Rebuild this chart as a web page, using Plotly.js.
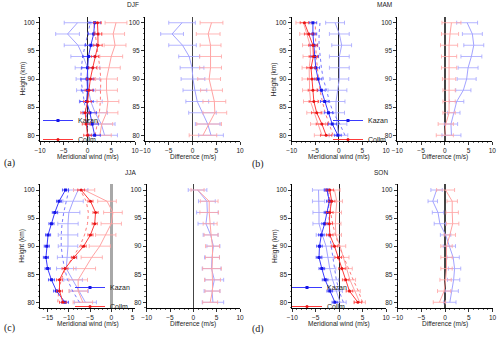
<!DOCTYPE html>
<html><head><meta charset="utf-8">
<script src="https://cdn.plot.ly/plotly-3.0.1.min.js"></script>
<style>html,body{margin:0;padding:0;background:#fff;} #chart{width:500px;height:339px;}</style>
</head><body><div id="chart"></div>
<script>
// heights (km), bottom to top
const heights = [80, 82, 84, 86, 88, 90, 92, 94, 96, 98, 100];
const seasons = ['DJF', 'MAM', 'JJA', 'SON'];
const panelLabels = ['(a)', '(b)', '(c)', '(d)'];
const stationNames = ['Kazan', 'Collm'];
const windTitle = 'Meridional wind (m/s)';
const diffTitle = 'Difference (m/s)';
const heightTitle = 'Height (km)';

// ---- DJF ----
const djfKazan = [1.5, 1.0, 0.5, -0.2, 0.0, -0.1, 0.0, 0.2, 0.7, 1.3, 1.5];
const djfKazanErr = [1.2, 1.3, 1.4, 1.4, 1.3, 1.3, 1.2, 1.2, 1.2, 1.1, 1.2];
const djfCollm = [0.0, -0.3, -0.5, 0.0, 0.3, 0.6, 1.1, 1.6, 2.2, 2.2, 2.1];
const djfCollmErr = [0.8, 0.8, 0.9, 0.8, 0.8, 0.8, 0.8, 0.8, 0.9, 0.8, 0.8];
const djfKazanB = [3.6, 2.9, 1.6, 0.7, 0.2, 0.1, 0.0, -0.9, -2.0, -4.2, -2.1];
const djfKazanBErr = [2.7, 2.9, 2.6, 2.4, 2.5, 2.5, 2.6, 2.6, 2.9, 2.5, 2.8];
const djfCollmB = [2.6, 3.0, 4.0, 4.3, 4.0, 4.0, 4.5, 5.0, 5.8, 5.4, 6.0];
const djfCollmBErr = [2.4, 2.3, 2.4, 2.3, 2.3, 2.3, 2.4, 2.4, 2.3, 2.4, 2.3];
const djfKazanModel = [0.0, -0.1, -0.3, -0.7, -1.1, -1.4, -1.3, -1.0, -0.5, 0.1, 0.6];
const djfCollmModel = [1.6, 2.1, 2.5, 2.7, 2.8, 2.8, 2.6, 2.3, 2.0, 1.6, 1.3];
const djfDiffKazan = [3.9, 3.2, 2.1, 1.0, 0.5, 0.1, -0.1, -0.7, -2.1, -4.3, -2.2];
const djfDiffKazanErr = [2.6, 2.6, 2.9, 2.4, 2.5, 2.5, 2.5, 2.2, 2.9, 2.4, 2.8];
const djfDiffCollm = [2.2, 3.5, 4.7, 4.6, 4.0, 3.5, 3.8, 3.8, 3.8, 3.3, 4.0];
const djfDiffCollmErr = [2.9, 2.6, 2.5, 2.4, 2.3, 2.4, 2.3, 2.3, 2.2, 2.5, 2.4];

// ---- MAM ----
const mamKazan = [-0.2, -1.4, -2.2, -3.0, -3.7, -4.4, -4.9, -5.1, -5.3, -5.5, -5.5];
const mamKazanErr = [0.7, 0.9, 0.9, 0.9, 0.8, 0.8, 0.8, 0.8, 0.8, 0.8, 0.8];
const mamCollm = [-2.7, -3.6, -4.7, -5.3, -5.5, -5.7, -5.9, -5.4, -5.5, -6.4, -7.3];
const mamCollmErr = [1.2, 1.2, 1.1, 1.0, 1.0, 0.9, 0.9, 0.9, 0.9, 0.9, 0.9];
const mamKazanB = [-0.1, -0.3, -0.6, -0.6, -0.3, 0.1, 0.1, 0.1, 0.6, 0.1, -0.8];
const mamKazanBErr = [2.0, 2.0, 1.8, 1.9, 2.0, 2.0, 2.1, 2.1, 2.1, 2.1, 2.0];
const mamCollmB = [-3.6, -4.4, -5.3, -6.0, -6.2, -6.3, -6.3, -6.0, -6.1, -6.8, -7.5];
const mamCollmBErr = [1.6, 1.6, 1.5, 1.5, 1.5, 1.5, 1.5, 1.6, 1.6, 1.5, 1.6];
const mamKazanModel = [1.3, 0.2, -1.2, -2.0, -2.6, -3.3, -3.7, -4.0, -4.2, -4.2, -4.0];
const mamCollmModel = [-1.2, -2.0, -2.9, -3.5, -4.0, -4.3, -4.6, -4.8, -4.9, -5.0, -5.0];
const mamDiffKazan = [1.4, 1.3, 1.9, 2.5, 3.9, 4.6, 4.9, 5.6, 6.1, 5.8, 4.7];
const mamDiffKazanErr = [2.0, 1.4, 1.3, 1.5, 1.6, 2.0, 2.1, 2.2, 2.1, 2.1, 2.2];
const mamDiffCollm = [0.0, 0.2, 0.9, 0.9, 0.9, 0.9, 0.9, 0.9, 0.9, 1.1, 1.4];
const mamDiffCollmErr = [1.8, 1.6, 1.3, 1.3, 1.3, 1.4, 1.6, 1.6, 1.8, 1.8, 2.0];

// ---- JJA ----
const jjaKazan = [-10.9, -12.9, -14.1, -15.0, -15.4, -15.2, -14.9, -14.1, -13.3, -12.3, -10.8];
const jjaKazanErr = [0.8, 0.7, 0.7, 0.6, 0.6, 0.6, 0.6, 0.6, 0.6, 0.6, 0.7];
const jjaCollm = [-11.4, -12.2, -12.2, -10.9, -8.8, -6.5, -4.9, -3.9, -3.7, -4.9, -7.1];
const jjaCollmErr = [0.8, 0.7, 0.7, 0.7, 0.6, 0.6, 0.6, 0.6, 0.6, 0.6, 0.8];
const jjaKazanB = [-6.1, -7.6, -9.0, -10.6, -10.4, -10.2, -10.2, -10.2, -10.0, -9.0, -7.8];
const jjaKazanBErr = [2.6, 2.2, 2.2, 2.3, 2.3, 2.3, 2.3, 2.4, 2.6, 2.4, 2.3];
const jjaCollmB = [-6.7, -7.8, -7.8, -6.3, -4.6, -2.7, -1.3, 0.0, 0.4, -1.0, -6.4];
const jjaCollmBErr = [2.3, 2.2, 2.2, 2.6, 2.5, 2.5, 2.4, 2.4, 2.2, 2.2, 2.5];
const jjaKazanModel = [-7.5, -9.1, -10.3, -11.0, -11.5, -11.8, -11.8, -11.6, -11.2, -10.6, -10.0];
const jjaCollmModel = [-12.6, -12.4, -11.8, -10.8, -9.1, -7.4, -6.3, -5.6, -5.4, -5.9, -7.3];
const jjaDiffKazan = [4.2, 4.0, 4.5, 3.9, 4.0, 4.3, 3.7, 2.7, 3.0, 2.9, 0.9];
const jjaDiffKazanErr = [2.3, 1.7, 2.0, 2.0, 1.6, 1.4, 1.6, 1.7, 2.3, 1.8, 2.0];
const jjaDiffCollm = [3.6, 4.1, 4.1, 4.0, 4.1, 4.1, 3.8, 3.6, 3.4, 3.4, 0.9];
const jjaDiffCollmErr = [1.6, 1.6, 1.7, 2.0, 1.5, 1.5, 1.5, 1.5, 2.0, 1.9, 1.4];

// ---- SON ----
const sonKazan = [-0.9, -2.0, -3.0, -3.7, -4.3, -4.2, -3.8, -3.1, -2.6, -2.1, -2.6];
const sonKazanErr = [0.6, 0.6, 0.6, 0.6, 0.6, 0.6, 0.6, 0.6, 0.6, 0.6, 0.6];
const sonCollm = [4.0, 2.2, 1.4, 0.6, -0.2, -1.0, -2.0, -2.1, -2.0, -1.6, -2.0];
const sonCollmErr = [0.8, 0.7, 0.7, 0.7, 0.7, 0.7, 0.7, 0.7, 0.7, 0.7, 0.8];
const sonKazanB = [0.2, -0.6, -1.4, -2.0, -2.4, -2.8, -3.6, -4.3, -4.3, -4.4, -4.4];
const sonKazanBErr = [1.3, 1.3, 1.3, 1.3, 1.3, 1.3, 1.3, 1.3, 1.3, 1.3, 1.3];
const sonCollmB = [4.4, 3.3, 2.3, 1.6, 0.9, 0.2, -0.7, -0.8, -0.7, -0.5, -1.0];
const sonCollmBErr = [1.2, 1.2, 1.2, 1.2, 1.2, 1.2, 1.2, 1.2, 1.2, 1.2, 1.2];
const sonKazanModel = [0.9, 0.0, -0.6, -1.0, -1.4, -1.7, -2.0, -2.1, -2.2, -2.3, -2.4];
const sonCollmModel = [5.0, 4.1, 3.0, 2.0, 1.0, 0.0, -0.8, -1.4, -1.8, -2.0, -2.2];
const sonDiffKazan = [1.0, 1.4, 1.8, 2.0, 1.7, 0.9, 0.1, -1.1, -1.5, -2.6, -1.8];
const sonDiffKazanErr = [1.3, 1.4, 1.3, 1.3, 1.3, 1.3, 1.1, 1.2, 1.2, 1.0, 1.2];
const sonDiffCollm = [-1.2, -0.2, 0.1, 0.3, 0.3, 0.3, 1.0, 1.6, 1.5, 1.5, 0.1];
const sonDiffCollmErr = [1.3, 1.4, 1.2, 1.2, 1.2, 1.2, 1.2, 1.3, 1.3, 1.1, 1.9];

// ---------- styles ----------
const C = {
  kazan: '#3a3aff', kazanMk: '#1515e6', kazanLight: '#a3a3ff', kazanDash: '#7a7aff',
  collm: '#ff3a3a', collmMk: '#e61515', collmLight: '#ffa3a3', collmDash: '#ff7a7a'
};
const FONT = 'Liberation Sans, Arial, sans-serif';

const seasonData = [
  {k: djfKazan, ke: djfKazanErr, c: djfCollm, ce: djfCollmErr, kb: djfKazanB, kbe: djfKazanBErr, cb: djfCollmB, cbe: djfCollmBErr, km: djfKazanModel, cm: djfCollmModel, dk: djfDiffKazan, dke: djfDiffKazanErr, dc: djfDiffCollm, dce: djfDiffCollmErr},
  {k: mamKazan, ke: mamKazanErr, c: mamCollm, ce: mamCollmErr, kb: mamKazanB, kbe: mamKazanBErr, cb: mamCollmB, cbe: mamCollmBErr, km: mamKazanModel, cm: mamCollmModel, dk: mamDiffKazan, dke: mamDiffKazanErr, dc: mamDiffCollm, dce: mamDiffCollmErr},
  {k: jjaKazan, ke: jjaKazanErr, c: jjaCollm, ce: jjaCollmErr, kb: jjaKazanB, kbe: jjaKazanBErr, cb: jjaCollmB, cbe: jjaCollmBErr, km: jjaKazanModel, cm: jjaCollmModel, dk: jjaDiffKazan, dke: jjaDiffKazanErr, dc: jjaDiffCollm, dce: jjaDiffCollmErr},
  {k: sonKazan, ke: sonKazanErr, c: sonCollm, ce: sonCollmErr, kb: sonKazanB, kbe: sonKazanBErr, cb: sonCollmB, cbe: sonCollmBErr, km: sonKazanModel, cm: sonCollmModel, dk: sonDiffKazan, dke: sonDiffKazanErr, dc: sonDiffCollm, dce: sonDiffCollmErr}
];

function err(arr, color, w) {
  return {type: 'data', array: arr, visible: true, color: color, thickness: 0.8, width: w};
}

const traces = [];
seasonData.forEach((s, i) => {
  const wx = 'x' + (2 * i + 1), wy = 'y' + (2 * i + 1);
  const dx = 'x' + (2 * i + 2), dy = 'y' + (2 * i + 2);
  const lg = i === 0 ? 'legend' : 'legend' + (i + 1);
  traces.push({x: s.kb, y: heights, xaxis: wx, yaxis: wy, mode: 'lines', showlegend: false,
    line: {color: C.kazanLight, width: 1}, error_x: err(s.kbe, C.kazanLight, 2)});
  traces.push({x: s.cb, y: heights, xaxis: wx, yaxis: wy, mode: 'lines', showlegend: false,
    line: {color: C.collmLight, width: 1}, error_x: err(s.cbe, C.collmLight, 2)});
  traces.push({x: s.km, y: heights, xaxis: wx, yaxis: wy, mode: 'lines', showlegend: false,
    line: {color: C.kazanDash, width: 1, dash: 'dot'}});
  traces.push({x: s.cm, y: heights, xaxis: wx, yaxis: wy, mode: 'lines', showlegend: false,
    line: {color: C.collmDash, width: 1, dash: 'dot'}});
  traces.push({x: s.k, y: heights, xaxis: wx, yaxis: wy, mode: 'lines+markers', name: stationNames[0],
    legend: lg, line: {color: C.kazan, width: 1}, marker: {symbol: 'square', size: 3, color: C.kazanMk},
    error_x: err(s.ke, C.kazan, 1.5)});
  traces.push({x: s.c, y: heights, xaxis: wx, yaxis: wy, mode: 'lines+markers', name: stationNames[1],
    legend: lg, line: {color: C.collm, width: 1}, marker: {symbol: 'circle', size: 3, color: C.collmMk},
    error_x: err(s.ce, C.collm, 1.5)});
  traces.push({x: s.dk, y: heights, xaxis: dx, yaxis: dy, mode: 'lines', showlegend: false,
    line: {color: C.kazanLight, width: 1}, error_x: err(s.dke, C.kazanLight, 2)});
  traces.push({x: s.dc, y: heights, xaxis: dx, yaxis: dy, mode: 'lines', showlegend: false,
    line: {color: C.collmLight, width: 1}, error_x: err(s.dce, C.collmLight, 2)});
});

// ---------- layout (pixel geometry in a 500x339 page) ----------
const W = 500, H = 339;
const px = (a, b) => [a / W, b / W];
const py = (top, bot) => [1 - bot / H, 1 - top / H];
const xDomains = [px(40, 135), px(145, 240), px(291.7, 386), px(397.3, 492.3),
                  px(40, 135), px(146.7, 240), px(292.3, 386), px(397.7, 492.5)];
const rowY = [py(17.1, 140.9), py(184.4, 307.9)];
const xRanges = [[-10, 10], [-10, 10], [-10, 10], [-10, 10], [-16.8, 5.6], [-10, 10], [-10, 10], [-10, 10]];

const tickFont = {family: FONT, size: 6.5, color: '#222'};
const titleFont = {family: FONT, size: 6.5, color: '#222'};

const layout = {
  width: W, height: H, margin: {l: 0, r: 0, t: 0, b: 0},
  paper_bgcolor: '#fff', plot_bgcolor: '#fff', showlegend: true,
  font: {family: FONT}, annotations: []
};

for (let j = 0; j < 8; j++) {
  const n = j + 1;
  const isWind = j % 2 === 0;
  const row = j < 4 ? 0 : 1;
  let zc = '#444', zw = 1.4;
  if (isWind) { zc = '#222'; zw = 1; }
  if (j === 4) { zc = '#a8a8a8'; zw = 3; }
  layout['xaxis' + n] = {
    domain: xDomains[j], range: xRanges[j], anchor: 'y' + n, fixedrange: true,
    showline: true, linecolor: '#000', linewidth: 1, mirror: false,
    ticks: 'outside', ticklen: 3, tickwidth: 0.8, tickcolor: '#000', dtick: 5, tick0: 0,
    minor: {ticks: 'outside', ticklen: 1.5, dtick: 1, tickcolor: '#000', tickwidth: 0.6},
    showgrid: false, zeroline: true, zerolinecolor: zc, zerolinewidth: zw,
    tickfont: tickFont
  };
  layout['yaxis' + n] = {
    domain: rowY[row], range: [79, 101], anchor: 'x' + n, fixedrange: true,
    showline: true, linecolor: '#000', linewidth: 1,
    ticks: 'outside', ticklen: 3, tickwidth: 0.8, tickcolor: '#000', dtick: 5, tick0: 0,
    minor: {ticks: 'outside', ticklen: 1.5, dtick: 1, tickcolor: '#000', tickwidth: 0.6},
    showgrid: false, zeroline: false, tickfont: tickFont
  };
  // axis titles placed below / beside each subplot
  const d = xDomains[j];
  const rowTitleY = row === 0 ? 156.7 : 324.3;
  layout.annotations.push({text: isWind ? windTitle : diffTitle, xref: 'paper', yref: 'paper',
    x: (d[0] + d[1]) / 2, y: 1 - rowTitleY / H, xanchor: 'center', yanchor: 'middle',
    showarrow: false, font: titleFont});
  if (isWind) {
    const rowMid = row === 0 ? (17.1 + 140.9) / 2 : (184.4 + 307.9) / 2;
    layout.annotations.push({text: heightTitle, xref: 'paper', yref: 'paper',
      x: (d[0] * W - 17.5) / W, y: 1 - rowMid / H, xanchor: 'center', yanchor: 'middle',
      textangle: -90, showarrow: false, font: titleFont});
  }
}

// legends (left/top corner of each legend box, in page pixels)
const legPos = [[38, 106], [328, 106], [70, 273], [287, 273]];
legPos.forEach((p, i) => {
  const key = i === 0 ? 'legend' : 'legend' + (i + 1);
  layout[key] = {x: p[0] / W, y: 1 - p[1] / H, xanchor: 'left', yanchor: 'top',
    bgcolor: 'rgba(0,0,0,0)', borderwidth: 0, font: {family: FONT, size: 7, color: '#222'},
    itemwidth: 30, tracegroupgap: 0};
});

// season titles and panel labels
const titlePos = [[133, 5], [384, 5], [131, 172], [381, 172]];
const labelPos = [[9, 163], [258, 164], [9, 328], [258, 329]];
seasons.forEach((s, i) => {
  layout.annotations.push({text: s, xref: 'paper', yref: 'paper', x: titlePos[i][0] / W, y: 1 - titlePos[i][1] / H,
    xanchor: 'center', yanchor: 'middle', showarrow: false, font: {family: FONT, size: 6.5, color: '#222'}});
  layout.annotations.push({text: panelLabels[i], xref: 'paper', yref: 'paper', x: labelPos[i][0] / W, y: 1 - labelPos[i][1] / H,
    xanchor: 'center', yanchor: 'middle', showarrow: false, font: {family: 'Liberation Serif, Times New Roman, serif', size: 10, color: '#222'}});
});

Plotly.newPlot('chart', traces, layout, {displayModeBar: false, staticPlot: true});
</script>
</body></html>
